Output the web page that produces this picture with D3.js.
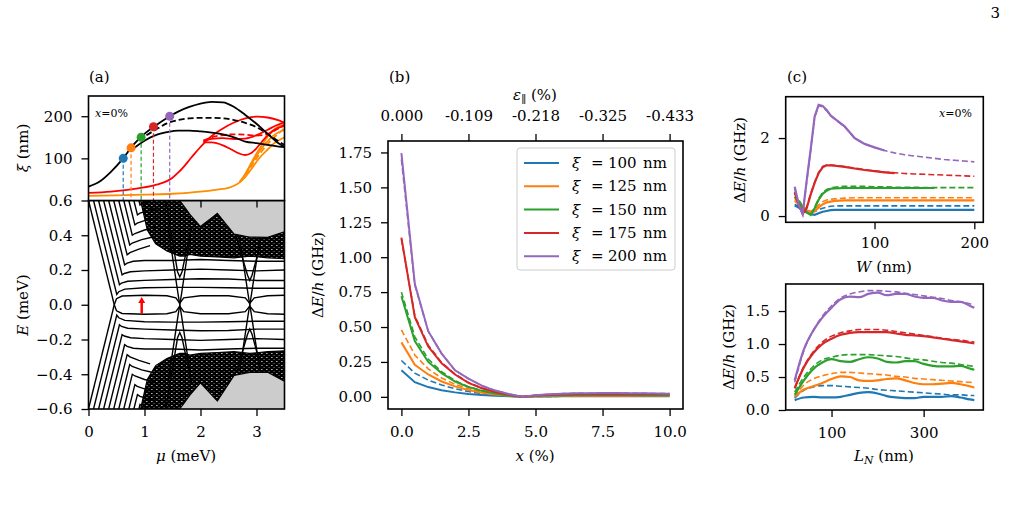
<!DOCTYPE html>
<html><head><meta charset="utf-8">
<script src="https://cdn.jsdelivr.net/npm/d3@7"></script>
<style>body{margin:0;background:#fff}</style>
</head><body>
<svg id="c" width="1011" height="513"></svg>
<script>
// ---------------- DATA ----------------
const C_BLUE="#1f77b4",C_ORANGE="#ff7f0e",C_GREEN="#2ca02c",C_RED="#d62728",C_PURPLE="#9467bd";
const XI_LABELS=["100","125","150","175","200"];

// Panel (a) top: xi(mu)
const MU_A=[0,0.2,0.4,0.6,0.8,1.0,1.2,1.4,1.6,1.8,2.0,2.2,2.4,2.6,2.8,3.0,3.2,3.4,3.5];
const XI_BLACK_TOP=[33,45,68,97,132,158,178,196,211,222,230,234,233,222,203,182,158,135,127];
const MU_BLACK_DASH=[0.9,1.0,1.2,1.4,1.6,1.8,2.0,2.2,2.4,2.6,2.8,3.0,3.2,3.4,3.5];
const XI_BLACK_DASH=[143,152,168,183,191,195,196,196,195,191,184,174,158,140,132];
const MU_BLACK_LOW=[0.75,1.0,1.2,1.4,1.6,1.8,2.0,2.2,2.4,2.6,2.8,3.0,3.2,3.4,3.5];
const XI_BLACK_LOW=[118,142,155,162,166,166,164,161,157,150,140,136,132,128,127];
const MU_RED_MAIN=[0,0.4,0.8,1.2,1.4,1.5,1.6,1.7,1.8,1.9,2.0,2.1,2.2,2.4,2.6,2.8,3.0,3.2,3.4,3.5];
const XI_RED_MAIN=[18,21,27,37,46,54,66,80,96,112,127,141,153,171,185,195,199,197,190,184];
const MU_RED_B=[2.05,2.2,2.4,2.55,2.7,2.8,2.9,3.0,3.1,3.2,3.35,3.5];
const XI_RED_B=[138,138,131,121,111,108,112,124,140,155,170,177];
const MU_RED_C=[2.05,2.2,2.4,2.6,2.8,3.0,3.2,3.35,3.5];
const XI_RED_C=[140,146,148,146,147,155,168,178,186];
const XI_RED_DASH=[142,150,155,157,156,154,158,168,180];
const MU_OR_MAIN=[0,0.5,1.0,1.5,2.0,2.3,2.5,2.6,2.7,2.8,2.9,3.0,3.1,3.2,3.3,3.4,3.5];
const XI_OR_MAIN=[11,12,14,16,21,26,30,35,43,56,73,92,108,121,134,143,150];
const MU_OR_B=[2.7,2.8,2.9,3.0,3.1,3.2,3.3,3.4,3.5];
const XI_OR_B=[45,62,85,106,125,141,154,162,168];
const XI_OR_DASH=[44,60,80,100,118,134,148,160,172];
const MU_OR_C=[2.75,2.85,2.95,3.05,3.15,3.25,3.35,3.5];
const XI_OR_C=[52,75,100,122,142,160,172,180];
const DOT_MU=[0.62,0.76,0.94,1.16,1.45];
const DOT_XI=[100,125,150,175,200];

// Panel (a) bottom: BdG spectrum E(mu)
const ENV_MU=[0,1.55,1.63,1.72,1.81,1.93,2.0,2.1,2.2,2.29,2.4,2.5,2.65,2.8,2.98,3.1,3.22,3.35,3.5];
const ENV_TOP=[0.7,0.7,0.62,0.56,0.52,0.44,0.45,0.48,0.51,0.53,0.49,0.45,0.385,0.40,0.375,0.38,0.39,0.40,0.42];
const ENV_BOT=[-0.7,-0.7,-0.62,-0.56,-0.52,-0.44,-0.45,-0.48,-0.52,-0.56,-0.5,-0.45,-0.385,-0.4,-0.375,-0.38,-0.39,-0.41,-0.44];
const MASS_MU=[0.93,1.05,1.2,1.4,1.55,1.63,1.72,1.81,2.0,2.3,2.6,2.88,3.2,3.5];
const MASS_UP_LOW=[0.6,0.43,0.35,0.31,0.29,0.28,0.28,0.29,0.28,0.275,0.27,0.28,0.27,0.265];
const MASS_DN_HIGH=[-0.6,-0.43,-0.35,-0.31,-0.29,-0.28,-0.28,-0.29,-0.28,-0.275,-0.27,-0.28,-0.27,-0.265];
const BANDS_UP=[
 [[0.00,0.6],[0.46,0.0]],
 [[0.09,0.6],[0.505,0.06],[0.54,0.075],[0.65,0.09],[1.0,0.098],[1.5,0.1],[2.0,0.1],[2.5,0.098],[3.0,0.095],[3.5,0.095]],
 [[0.18,0.6],[0.553,0.115],[0.59,0.125],[0.7,0.135],[1.0,0.14],[1.5,0.145],[2.0,0.15],[2.5,0.148],[3.0,0.14],[3.5,0.14]],
 [[0.27,0.6],[0.6,0.172],[0.64,0.18],[0.75,0.19],[1.0,0.195],[1.5,0.2],[2.0,0.205],[2.5,0.2],[3.0,0.195],[3.5,0.2]],
 [[0.36,0.6],[0.645,0.23],[0.69,0.24],[0.8,0.25],[1.0,0.255],[1.5,0.255],[2.0,0.26],[2.5,0.255],[3.0,0.25],[3.5,0.25]],
 [[0.45,0.6],[0.69,0.287],[0.74,0.3],[0.9,0.32],[1.1,0.34]],
 [[0.54,0.6],[0.736,0.344],[0.78,0.355],[0.95,0.375],[1.15,0.39]],
 [[0.63,0.6],[0.782,0.40],[0.83,0.41],[1.0,0.43],[1.2,0.445]],
 [[0.72,0.6],[0.828,0.46],[0.87,0.47],[1.05,0.49],[1.25,0.5]],
 [[0.81,0.6],[0.874,0.517],[0.92,0.527],[1.1,0.545],[1.3,0.555]],
 [[0.90,0.6],[0.92,0.574],[0.96,0.584],[1.1,0.6]],
 [[0.46,0.0],[0.5,0.035],[0.6,0.05],[1.0,0.055],[1.4,0.052],[1.56,0.04],[1.63,0.008],[1.7,0.04],[2.0,0.052],[2.5,0.052],[2.8,0.04],[2.88,0.008],[2.96,0.04],[3.2,0.052],[3.5,0.055]],
 [[1.38,0.6],[1.59,0.19],[1.63,0.16],[1.67,0.19],[1.84,0.45]],
 [[1.42,0.45],[1.6,0.06],[1.63,0.0],[1.66,-0.06],[1.84,-0.45]],
 [[2.64,0.39],[2.84,0.17],[2.88,0.14],[2.92,0.17],[3.08,0.36]],
 [[2.7,0.38],[2.85,0.06],[2.88,0.0],[2.91,-0.06],[3.06,-0.38]]
];
const BANDS_DN=[
 [[0.00,-0.6],[0.46,0.0]],
 [[0.09,-0.6],[0.505,-0.06],[0.54,-0.075],[0.65,-0.09],[1.0,-0.098],[1.5,-0.1],[2.0,-0.1],[2.5,-0.098],[3.0,-0.095],[3.5,-0.095]],
 [[0.18,-0.6],[0.553,-0.115],[0.59,-0.125],[0.7,-0.135],[1.0,-0.14],[1.5,-0.145],[2.0,-0.15],[2.5,-0.148],[3.0,-0.14],[3.5,-0.14]],
 [[0.27,-0.6],[0.6,-0.172],[0.64,-0.18],[0.75,-0.19],[1.0,-0.195],[1.5,-0.2],[2.0,-0.205],[2.5,-0.2],[3.0,-0.195],[3.5,-0.2]],
 [[0.36,-0.6],[0.645,-0.23],[0.69,-0.24],[0.8,-0.25],[1.0,-0.255],[1.5,-0.255],[2.0,-0.26],[2.5,-0.255],[3.0,-0.25],[3.5,-0.25]],
 [[0.45,-0.6],[0.69,-0.287],[0.74,-0.3],[0.9,-0.32],[1.1,-0.34]],
 [[0.54,-0.6],[0.736,-0.344],[0.78,-0.355],[0.95,-0.375],[1.15,-0.39]],
 [[0.63,-0.6],[0.782,-0.40],[0.83,-0.41],[1.0,-0.43],[1.2,-0.445]],
 [[0.72,-0.6],[0.828,-0.46],[0.87,-0.47],[1.05,-0.49],[1.25,-0.5]],
 [[0.81,-0.6],[0.874,-0.517],[0.92,-0.527],[1.1,-0.545],[1.3,-0.555]],
 [[0.90,-0.6],[0.92,-0.574],[0.96,-0.584],[1.1,-0.6]],
 [[0.46,0.0],[0.5,-0.035],[0.6,-0.05],[1.0,-0.055],[1.4,-0.052],[1.56,-0.04],[1.63,-0.008],[1.7,-0.04],[2.0,-0.052],[2.5,-0.052],[2.8,-0.04],[2.88,-0.008],[2.96,-0.04],[3.2,-0.052],[3.5,-0.055]],
 [[1.38,-0.6],[1.59,-0.19],[1.63,-0.16],[1.67,-0.19],[1.84,-0.45]],
 [[1.42,-0.45],[1.6,-0.06],[1.63,0.0],[1.66,0.06],[1.84,0.45]],
 [[2.64,-0.39],[2.84,-0.17],[2.88,-0.14],[2.92,-0.17],[3.08,-0.36]],
 [[2.7,-0.38],[2.85,-0.06],[2.88,0.0],[2.91,0.06],[3.06,0.38]]
];
const ARROW_MU=0.95, ARROW_FROM=-0.05, ARROW_TO=0.045;

// Panel (b): gap vs strain x
const X_PCT=[0,0.5,1,1.5,2,2.5,3,3.5,4,4.5,5,5.5,6,6.5,7,7.5,8,8.5,9,9.5,10];
const B_SOLID_100=[0.19,0.105,0.07,0.048,0.032,0.021,0.013,0.008,0.004,0.0,0.002,0.003,0.004,0.004,0.004,0.004,0.004,0.004,0.004,0.004,0.004];
const B_SOLID_125=[0.39,0.23,0.16,0.11,0.075,0.048,0.03,0.016,0.007,0.0,0.004,0.006,0.007,0.008,0.008,0.008,0.008,0.008,0.008,0.008,0.008];
const B_SOLID_150=[0.72,0.40,0.25,0.17,0.11,0.07,0.043,0.024,0.01,0.0,0.007,0.01,0.012,0.013,0.013,0.013,0.013,0.013,0.012,0.012,0.012];
const B_SOLID_175=[1.14,0.57,0.36,0.24,0.16,0.10,0.062,0.035,0.015,0.0,0.009,0.014,0.017,0.018,0.019,0.019,0.019,0.019,0.018,0.018,0.018];
const B_SOLID_200=[1.745,0.81,0.47,0.31,0.19,0.13,0.08,0.045,0.02,0.0,0.012,0.019,0.023,0.025,0.026,0.027,0.027,0.026,0.025,0.024,0.023];
const B_DASH_100=[0.26,0.17,0.12,0.085,0.058,0.038,0.024,0.013,0.005,0.0,0.002,0.003,0.004,0.004,0.004,0.004,0.004,0.004,0.004,0.004,0.004];
const B_DASH_125=[0.48,0.30,0.20,0.135,0.09,0.058,0.035,0.019,0.008,0.0,0.004,0.006,0.007,0.008,0.008,0.008,0.008,0.008,0.008,0.008,0.008];
const B_DASH_150=[0.75,0.43,0.27,0.18,0.115,0.073,0.045,0.025,0.011,0.0,0.007,0.01,0.012,0.013,0.013,0.013,0.013,0.013,0.012,0.012,0.012];
const B_DASH_175=[1.13,0.58,0.37,0.245,0.163,0.102,0.063,0.036,0.016,0.0,0.009,0.014,0.017,0.018,0.019,0.019,0.019,0.019,0.018,0.018,0.018];
const B_DASH_200=[1.70,0.80,0.47,0.31,0.19,0.13,0.08,0.045,0.02,0.0,0.012,0.019,0.023,0.025,0.026,0.027,0.027,0.026,0.025,0.024,0.023];
const X_TICKS_B=[0,2.5,5,7.5,10];
const EPS_TICK_LABELS=["0.000","-0.109","-0.218","-0.325","-0.433"];

// Panel (c) top: gap vs W
const W_NM=[20,24,28,32,36,40,44,48,52,56,60,70,80,90,100,110,120,130,140,150,160,170,180,190,200];
const CW_SOLID_100=[0.27,0.22,0.15,0.09,0.05,0.03,0.07,0.11,0.13,0.15,0.16,0.16,0.16,0.16,0.16,0.16,0.16,0.16,0.16,0.16,0.16,0.16,0.16,0.16,0.16];
const CW_DASH_100=[0.3,0.25,0.2,0.15,0.12,0.12,0.16,0.2,0.23,0.25,0.26,0.26,0.26,0.26,0.26,0.26,0.26,0.26,0.26,0.26,0.26,0.26,0.26,0.26,0.26];
const CW_SOLID_125=[0.4,0.3,0.22,0.14,0.08,0.12,0.22,0.3,0.35,0.37,0.39,0.4,0.4,0.4,0.4,0.4,0.4,0.4,0.4,0.4,0.4,0.4,0.4,0.4,0.4];
const CW_DASH_125=[0.45,0.35,0.26,0.18,0.12,0.16,0.28,0.37,0.41,0.43,0.44,0.46,0.47,0.47,0.47,0.47,0.47,0.47,0.47,0.47,0.47,0.47,0.47,0.47,0.47];
const CW_SOLID_150=[0.5,0.35,0.2,0.1,0.03,0.2,0.42,0.57,0.65,0.7,0.71,0.72,0.72,0.72,0.72,0.72,0.72,0.72,0.72,0.72,0.72,null,null,null,null];
const CW_DASH_150=[0.6,0.42,0.25,0.12,0.05,0.22,0.45,0.6,0.68,0.72,0.74,0.76,0.76,0.76,0.75,0.75,0.74,0.74,0.74,0.73,0.73,0.73,0.73,0.73,0.73];
const CW_SOLID_175=[0.6,0.3,0.06,0.2,0.55,0.85,1.1,1.25,1.3,1.3,1.29,1.26,1.22,1.18,1.15,1.12,1.1,null,null,null,null,null,null,null,null];
const CW_DASH_175=[0.62,0.32,0.08,0.22,0.57,0.87,1.12,1.27,1.31,1.31,1.3,1.27,1.23,1.19,1.16,1.13,1.11,1.09,1.08,1.07,1.06,1.05,1.04,1.03,1.02];
const CW_SOLID_200=[0.75,0.3,0.05,0.9,1.7,2.55,2.85,2.82,2.72,2.58,2.5,2.3,2.0,1.85,1.76,1.68,null,null,null,null,null,null,null,null,null];
const CW_DASH_200=[0.72,0.28,0.05,0.88,1.68,2.53,2.83,2.8,2.7,2.57,2.49,2.29,2.0,1.85,1.76,1.68,1.62,1.57,1.54,1.51,1.48,1.45,1.43,1.41,1.39];

// Panel (c) bottom: gap vs L_N
const LN_NM=[20,40,60,80,100,120,140,160,180,200,220,240,260,280,300,320,340,360,380,400,410];
const CL_SOLID_100=[0.15,0.19,0.2,0.19,0.19,0.2,0.23,0.26,0.27,0.25,0.21,0.19,0.18,0.18,0.2,0.2,0.2,0.21,0.19,0.16,0.15];
const CL_DASH_100=[0.18,0.3,0.35,0.37,0.37,0.36,0.35,0.34,0.33,0.31,0.3,0.29,0.28,0.27,0.26,0.25,0.24,0.23,0.23,0.22,0.22];
const CL_SOLID_125=[0.2,0.31,0.36,0.41,0.47,0.51,0.5,0.45,0.44,0.45,0.47,0.48,0.45,0.41,0.39,0.39,0.4,0.41,0.39,0.36,0.34];
const CL_DASH_125=[0.2,0.38,0.47,0.52,0.55,0.57,0.57,0.56,0.55,0.54,0.53,0.51,0.5,0.48,0.47,0.46,0.45,0.44,0.43,0.42,0.41];
const CL_SOLID_150=[0.23,0.45,0.62,0.72,0.77,0.74,0.73,0.77,0.8,0.78,0.73,0.72,0.74,0.74,0.7,0.67,0.66,0.66,0.67,0.63,0.61];
const CL_DASH_150=[0.27,0.5,0.66,0.76,0.8,0.83,0.84,0.84,0.84,0.83,0.82,0.81,0.79,0.77,0.76,0.74,0.72,0.71,0.69,0.67,0.66];
const CL_SOLID_175=[0.33,0.65,0.86,1.0,1.08,1.14,1.17,1.18,1.18,1.18,1.18,1.16,1.14,1.13,1.12,1.1,1.08,1.06,1.04,1.02,1.01];
const CL_DASH_175=[0.33,0.66,0.88,1.03,1.12,1.17,1.2,1.22,1.22,1.22,1.21,1.19,1.17,1.15,1.13,1.11,1.09,1.07,1.06,1.04,1.03];
const CL_SOLID_200=[0.45,0.92,1.2,1.4,1.55,1.68,1.72,1.71,1.76,1.78,1.74,1.76,1.76,1.72,1.7,1.7,1.66,1.64,1.64,1.58,1.55];
const CL_DASH_200=[0.42,0.9,1.2,1.42,1.58,1.7,1.76,1.79,1.81,1.81,1.8,1.79,1.77,1.75,1.73,1.71,1.69,1.66,1.64,1.61,1.6];

// ---------------- DRAWING ----------------
const FONT="'DejaVu Serif', serif", FS=15;
const svg=d3.select("#c");
const COLORS=[C_BLUE,C_ORANGE,C_GREEN,C_RED,C_PURPLE];
const zip=(xs,ys)=>xs.map((x,i)=>[x,ys[i]]);

const defs=svg.append("defs");
const pat=defs.append("pattern").attr("id","dense").attr("patternUnits","userSpaceOnUse").attr("width",5).attr("height",4);
pat.append("rect").attr("width",5).attr("height",4).attr("fill","#000");
pat.append("rect").attr("x",1).attr("y",1).attr("width",1.6).attr("height",0.9).attr("fill","#fff").attr("opacity",0.75);
pat.append("rect").attr("x",3.5).attr("y",3).attr("width",1.2).attr("height",0.8).attr("fill","#fff").attr("opacity",0.5);

function clip(id,x0,y0,x1,y1){
  svg.append("clipPath").attr("id",id).append("rect").attr("x",x0).attr("y",y0).attr("width",x1-x0).attr("height",y1-y0);
  return svg.append("g").attr("clip-path",`url(#${id})`);
}
function frame(x0,y0,x1,y1){
  svg.append("rect").attr("x",x0).attr("y",y0).attr("width",x1-x0).attr("height",y1-y0)
    .attr("fill","none").attr("stroke","#000").attr("stroke-width",1.6);
}
function styleAxis(g){
  g.attr("font-family",FONT).attr("font-size",FS);
  g.select(".domain").remove();
  g.selectAll(".tick line").attr("stroke","#000").attr("stroke-width",1.3);
  g.selectAll(".tick text").attr("fill","#000");
}
function yAxis(scale,x,vals,fmt){
  const g=svg.append("g").attr("transform",`translate(${x},0)`)
    .call(d3.axisLeft(scale).tickValues(vals).tickFormat(fmt).tickSize(7).tickSizeOuter(0).tickPadding(9));
  styleAxis(g);
}
function xAxis(scale,y,vals,fmt,off){
  const g=svg.append("g").attr("transform",`translate(0,${y})`)
    .call(d3.axisBottom(scale).tickValues(vals).tickFormat(fmt).tickSize(7).tickSizeOuter(0));
  styleAxis(g);
  g.selectAll(".tick text").attr("y",off).attr("dy",null);
}
function mtext(x,y,parts,opts={}){
  const t=svg.append("text").attr("x",x).attr("y",y).attr("font-family",FONT)
    .attr("font-size",opts.size||FS).attr("text-anchor",opts.anchor||"middle").attr("fill","#000");
  if(opts.rotate) t.attr("transform",`rotate(-90,${x},${y})`);
  parts.forEach(p=>{
    const s=t.append("tspan").text(p[0]);
    if(p[1]&&p[1].includes("i")) s.attr("font-style","italic");
    if(p[1]&&p[1].includes("sub")) s.attr("baseline-shift","-25%").attr("font-size",(opts.size||FS)*0.72);
  });
  return t;
}
const dEh=[["Δ"],["E","i"],["/"],["h","i"],[" (GHz)"]];

// ===== Panel (a) =====
const XA=d3.scaleLinear().domain([0,3.5]).range([88.5,284.5]);
const YA1=d3.scaleLinear().domain([0,248]).range([200.5,96]);
const YA2=d3.scaleLinear().domain([-0.6,0.6]).range([409,200.5]);
const lineA1=d3.line().defined(d=>d[1]!=null).x(d=>XA(d[0])).y(d=>YA1(d[1])).curve(d3.curveMonotoneX);
const lineA2=d3.line().x(d=>XA(d[0])).y(d=>YA2(d[1]));

const gA2=clip("ca2",88.5,200.5,284.5,409);
gA2.append("rect").attr("x",88.5).attr("y",200.5).attr("width",196).attr("height",208.5).attr("fill","#cccccc");
gA2.append("path").datum(ENV_MU.map((m,i)=>[m,ENV_BOT[i],ENV_TOP[i]]))
  .attr("d",d3.area().x(d=>XA(d[0])).y0(d=>YA2(d[1])).y1(d=>YA2(d[2]))).attr("fill","#fff");
const envTop=d3.scaleLinear().domain(ENV_MU).range(ENV_TOP);
const envBot=d3.scaleLinear().domain(ENV_MU).range(ENV_BOT);
const massUp=MASS_MU.map((m,i)=>[m,MASS_UP_LOW[i],Math.min(0.6,envTop(m))]);
const massDn=MASS_MU.map((m,i)=>[m,Math.max(-0.6,envBot(m)),MASS_DN_HIGH[i]]);
[massUp,massDn].forEach(ms=>gA2.append("path").datum(ms)
  .attr("d",d3.area().x(d=>XA(d[0])).y0(d=>YA2(d[1])).y1(d=>YA2(d[2])))
  .attr("fill","url(#dense)").attr("stroke","#000").attr("stroke-width",1.2));
BANDS_UP.concat(BANDS_DN).forEach(b=>gA2.append("path").datum(b).attr("d",lineA2)
  .attr("fill","none").attr("stroke","#000").attr("stroke-width",1.4));
const ax=XA(ARROW_MU);
gA2.append("line").attr("x1",ax).attr("x2",ax).attr("y1",YA2(ARROW_FROM)).attr("y2",YA2(ARROW_TO)+5)
  .attr("stroke","red").attr("stroke-width",2.5);
gA2.append("path").attr("d",`M${ax-3.5},${YA2(ARROW_TO)+6}L${ax+3.5},${YA2(ARROW_TO)+6}L${ax},${YA2(ARROW_TO)}Z`).attr("fill","red");
frame(88.5,200.5,284.5,409);
yAxis(YA2,88.5,[-0.6,-0.4,-0.2,0,0.2,0.4,0.6],d=>d3.format(".1f")(d).replace("-","−"));
xAxis(XA,409,[0,1,2,3],d3.format("d"),28);

const gA1=clip("ca1",88.5,96,284.5,200.5);
gA1.append("rect").attr("x",88.5).attr("y",96).attr("width",196).attr("height",104.5).attr("fill","#fff");
const pA=(xs,ys,c,dash,w)=>gA1.append("path").datum(zip(xs,ys)).attr("d",lineA1).attr("fill","none")
  .attr("stroke",c).attr("stroke-width",w||1.8).attr("stroke-dasharray",dash?"6,3":null);
pA(MU_OR_MAIN,XI_OR_MAIN,"darkorange");
pA(MU_OR_B,XI_OR_B,"darkorange");
pA(MU_OR_C,XI_OR_C,"darkorange");
pA(MU_OR_B,XI_OR_DASH,"darkorange",true);
pA(MU_RED_MAIN,XI_RED_MAIN,"red");
pA(MU_RED_B,XI_RED_B,"red");
pA(MU_RED_C,XI_RED_C,"red");
pA(MU_RED_C,XI_RED_DASH,"red",true);
pA(MU_BLACK_LOW,XI_BLACK_LOW,"#000");
pA(MU_BLACK_DASH,XI_BLACK_DASH,"#000",true);
pA(MU_A,XI_BLACK_TOP,"#000");
DOT_MU.forEach((m,i)=>{
  gA1.append("line").attr("x1",XA(m)).attr("x2",XA(m)).attr("y1",YA1(DOT_XI[i])).attr("y2",YA1(0))
    .attr("stroke",COLORS[i]).attr("stroke-width",1.2).attr("stroke-dasharray","4,2.5");
});
DOT_MU.forEach((m,i)=>gA1.append("circle").attr("cx",XA(m)).attr("cy",YA1(DOT_XI[i])).attr("r",4.5).attr("fill",COLORS[i]));
frame(88.5,96,284.5,200.5);
yAxis(YA1,88.5,[100,200],d3.format("d"));
xAxis(XA,200.5,[0,1,2,3],()=>"",28);
mtext(95,117,[["x","i"],["=0%"]],{size:11,anchor:"start"});
mtext(89,82,[["(a)"]],{anchor:"start"});
mtext(28,148,[["ξ","i"],[" (nm)"]],{rotate:true});
mtext(28,305,[["E","i"],[" (meV)"]],{rotate:true});
mtext(186,461,[["μ","i"],[" (meV)"]]);

// ===== Panel (b) =====
const XB=d3.scaleLinear().domain([-0.5,10.5]).range([388,683]);
const YB=d3.scaleLinear().domain([-0.087,1.832]).range([409,141]);
const lineB=d3.line().x(d=>XB(d[0])).y(d=>YB(d[1]));
const gB=clip("cb",388,141,683,409);
const BS=[B_SOLID_100,B_SOLID_125,B_SOLID_150,B_SOLID_175,B_SOLID_200];
const BD=[B_DASH_100,B_DASH_125,B_DASH_150,B_DASH_175,B_DASH_200];
BD.forEach((v,i)=>gB.append("path").datum(zip(X_PCT,v)).attr("d",lineB).attr("fill","none")
  .attr("stroke",COLORS[i]).attr("stroke-width",1.6).attr("stroke-dasharray","6,3"));
BS.forEach((v,i)=>gB.append("path").datum(zip(X_PCT,v)).attr("d",lineB).attr("fill","none")
  .attr("stroke",COLORS[i]).attr("stroke-width",2));
frame(388,141,683,409);
yAxis(YB,388,[0,0.25,0.5,0.75,1,1.25,1.5,1.75],d3.format(".2f"));
xAxis(XB,409,X_TICKS_B,d3.format(".1f"),28);
{
  const g=svg.append("g").attr("transform","translate(0,141)")
    .call(d3.axisTop(XB).tickValues(X_TICKS_B).tickFormat((d,i)=>EPS_TICK_LABELS[i]).tickSize(7).tickSizeOuter(0));
  styleAxis(g);
  g.selectAll(".tick text").attr("y",-20).attr("dy",null);
}
svg.append("rect").attr("x",517).attr("y",148).attr("width",158).attr("height",122).attr("rx",3)
  .attr("fill","#fff").attr("fill-opacity",0.8).attr("stroke","#cccccc").attr("stroke-width",1);
XI_LABELS.forEach((lab,i)=>{
  const y=163+i*23.3;
  svg.append("line").attr("x1",524).attr("x2",559).attr("y1",y).attr("y2",y).attr("stroke",COLORS[i]).attr("stroke-width",2);
  const t=svg.append("text").attr("y",y+5).attr("font-family",FONT).attr("font-size",FS).attr("fill","#000");
  t.append("tspan").attr("x",572).attr("font-style","italic").text("ξ");
  t.append("tspan").attr("x",591).text("=");
  t.append("tspan").attr("x",608).text(lab);
  t.append("tspan").attr("x",643).text("nm");
});
mtext(389,82,[["(b)"]],{anchor:"start"});
mtext(535,100,[["ε","i"],["∥","sub"],[" (%)"]]);
mtext(323,275,dEh,{rotate:true});
mtext(535,461,[["x","i"],[" (%)"]]);

// ===== Panel (c) top =====
const XC1=d3.scaleLinear().domain([11,209]).range([785.7,983.3]);
const YC1=d3.scaleLinear().domain([-0.16,3.06]).range([222.3,96.7]);
const lineC1=d3.line().defined(d=>d[1]!=null).x(d=>XC1(d[0])).y(d=>YC1(d[1]));
const gC1=clip("cc1",785.7,96.7,983.3,222.3);
const CWS=[CW_SOLID_100,CW_SOLID_125,CW_SOLID_150,CW_SOLID_175,CW_SOLID_200];
const CWD=[CW_DASH_100,CW_DASH_125,CW_DASH_150,CW_DASH_175,CW_DASH_200];
CWD.forEach((v,i)=>gC1.append("path").datum(zip(W_NM,v)).attr("d",lineC1).attr("fill","none")
  .attr("stroke",COLORS[i]).attr("stroke-width",1.6).attr("stroke-dasharray","6,3"));
CWS.forEach((v,i)=>gC1.append("path").datum(zip(W_NM,v)).attr("d",lineC1).attr("fill","none")
  .attr("stroke",COLORS[i]).attr("stroke-width",2.2));
frame(785.7,96.7,983.3,222.3);
yAxis(YC1,785.7,[0,2],d3.format("d"));
xAxis(XC1,222.3,[100,200],d3.format("d"),26);
mtext(787,82,[["(c)"]],{anchor:"start"});
mtext(972,117,[["x","i"],["=0%"]],{size:11,anchor:"end"});
mtext(745,160,dEh,{rotate:true});
mtext(884,272,[["W","i"],[" (nm)"]]);

// ===== Panel (c) bottom =====
const XC2=d3.scaleLinear().domain([0.5,429.5]).range([785.7,983.3]);
const YC2=d3.scaleLinear().domain([0,1.91]).range([410,284]);
const lineC2=d3.line().x(d=>XC2(d[0])).y(d=>YC2(d[1])).curve(d3.curveMonotoneX);
const gC2=clip("cc2",785.7,284,983.3,410);
const CLS=[CL_SOLID_100,CL_SOLID_125,CL_SOLID_150,CL_SOLID_175,CL_SOLID_200];
const CLD=[CL_DASH_100,CL_DASH_125,CL_DASH_150,CL_DASH_175,CL_DASH_200];
CLD.forEach((v,i)=>gC2.append("path").datum(zip(LN_NM,v)).attr("d",lineC2).attr("fill","none")
  .attr("stroke",COLORS[i]).attr("stroke-width",1.6).attr("stroke-dasharray","6,3"));
CLS.forEach((v,i)=>gC2.append("path").datum(zip(LN_NM,v)).attr("d",lineC2).attr("fill","none")
  .attr("stroke",COLORS[i]).attr("stroke-width",2.2));
frame(785.7,284,983.3,410);
yAxis(YC2,785.7,[0,0.5,1,1.5],d3.format(".1f"));
xAxis(XC2,410,[100,300],d3.format("d"),28);
mtext(734,347,dEh,{rotate:true});
mtext(884,461,[["L","i"],["N","i sub"],[" (nm)"]]);

mtext(1000,18,[["3"]],{anchor:"end"});
</script>
</body></html>
